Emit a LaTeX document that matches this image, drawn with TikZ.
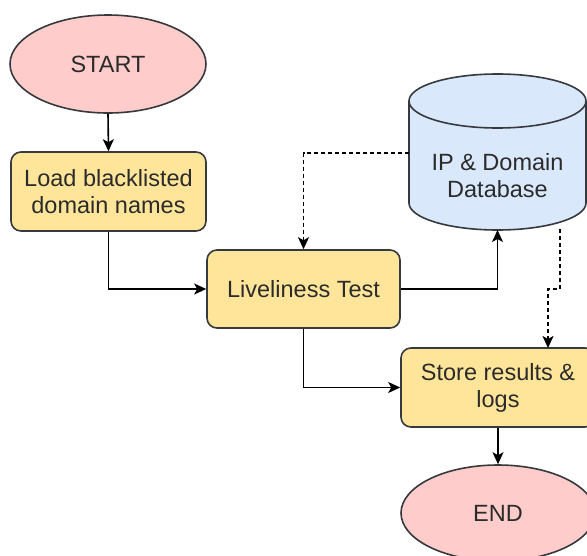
\documentclass[tikz,border=0pt]{standalone}
\usepackage{fontspec}
\setmainfont{Liberation Sans}
\usetikzlibrary{arrows.meta,shapes.geometric}

\definecolor{termfill}{HTML}{FFCCCC}
\definecolor{procfill}{HTML}{FFE599}
\definecolor{dbfill}{HTML}{DAE8FC}
\definecolor{edgeline}{HTML}{36393D}
\definecolor{labeltext}{HTML}{2B2B2B}

\tikzset{
  base/.style={draw=edgeline, line width=1.6pt, text=labeltext, align=center,
    font=\fontsize{23.5}{27}\selectfont, inner sep=0pt},
  terminal/.style={base, ellipse, fill=termfill},
  process/.style={base, rounded corners=10pt, fill=procfill},
  flow/.style={line width=1.6pt, draw=black, -{Stealth[length=12pt,width=11pt,inset=3pt]}},
  dataflow/.style={flow, dash pattern=on 4pt off 3pt},
}

\begin{document}
\begin{tikzpicture}[x=1pt, y=-1pt]
  \useasboundingbox (0,0) rectangle (587,555);
  \clip (0,0) rectangle (587,555);

  % terminals and process steps
  \node[terminal, minimum width=196pt, minimum height=98pt] (start) at (108,64) {START};
  \node[process, minimum width=195pt, minimum height=79pt] (load) at (108.5,191.5)
    {Load blacklisted\\domain names};
  \node[process, minimum width=193pt, minimum height=78pt] (live) at (303.5,289)
    {Liveliness Test};
  \node[process, minimum width=194pt, minimum height=79pt] (store) at (498,387.5)
    {Store results \&\\logs};
  \node[terminal, minimum width=194pt, minimum height=96pt] (end) at (498,513) {END};

  % database cylinder (y axis points down, so angle 90 is the lowest point)
  \fill[dbfill] (409,101) -- (409,203) arc[start angle=180, end angle=0, x radius=88.5, y radius=27]
    -- (586,101) arc[start angle=0, end angle=-180, x radius=88.5, y radius=27] -- cycle;
  \draw[draw=edgeline, line width=1.6pt]
    (409,101) -- (409,203) arc[start angle=180, end angle=0, x radius=88.5, y radius=27]
    -- (586,101) arc[start angle=0, end angle=-360, x radius=88.5, y radius=27];
  \node[base, draw=none] (db) at (497.5,176) {IP \& Domain\\Database};
  \coordinate (dbwest) at (409,153);
  \coordinate (dbbottom) at (497.5,230);
  \coordinate (dbout) at (560,229);
  \coordinate (dbbend) at (560,289);
  \coordinate (storein) at (548,348);

  % connectors
  \draw[flow] (start.south) -- (load.north);
  \draw[flow] (load.south) |- (live.west);
  \draw[flow] (live.east) -| (dbbottom);
  \draw[dataflow] (dbwest) -| (live.north);
  \draw[dataflow] (dbout) -- (dbbend) -| (storein);
  \draw[flow] (live.south) |- (store.west);
  \draw[flow] (store.south) -- (end.north);
\end{tikzpicture}
\end{document}
